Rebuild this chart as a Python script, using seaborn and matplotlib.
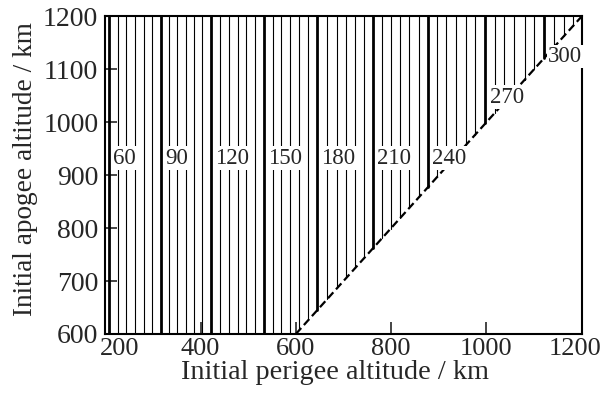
import numpy as np
import pandas as pd
import matplotlib
matplotlib.use("Agg")
import matplotlib.pyplot as plt
import matplotlib.transforms as mtransforms
import seaborn as sns

# ---- data ----
levels = [60, 65, 70, 75, 80, 85, 90, 95, 100, 105, 110, 115, 120, 125, 130,
          135, 140, 145, 150, 155, 160, 165, 170, 175, 180, 185, 190, 195, 200,
          205, 210, 215, 220, 225, 230, 235, 240, 245, 250, 255, 260, 265, 270,
          275, 280, 285, 290, 295, 300, 305, 310, 315]
perigee_km = [208, 226, 244, 262, 281, 299, 317, 334, 351, 369, 387, 402, 422,
              441, 460, 478, 496, 514, 533, 551, 569, 588, 607, 626, 645, 666,
              686, 705, 724, 743, 762, 781, 799, 819, 838, 858, 877, 896, 915,
              936, 957, 976, 998, 1018, 1037, 1058, 1080, 1100, 1121, 1141,
              1163, 1182]
labeled_levels = [60, 90, 120, 150, 180, 210, 240, 270, 300]
label_apogee = [932, 932, 932, 932, 932, 932, 932, 1047, 1124]
x_ticks = [200, 400, 600, 800, 1000, 1200]
y_ticks = [600, 700, 800, 900, 1000, 1100, 1200]
diag = [600, 1200]

# ---- build long-format table ----
rows = []
for lev, p in zip(levels, perigee_km):
    kind = "thick" if lev in labeled_levels else "thin"
    rows.append(dict(level=lev, perigee=p, apogee=max(600, p), kind=kind))
    rows.append(dict(level=lev, perigee=p, apogee=1200, kind=kind))
df = pd.DataFrame(rows)

sns.set_style("ticks")
plt.rcParams["font.family"] = ["Liberation Serif", "DejaVu Serif"]

fig = plt.figure(figsize=(6.03, 3.99), dpi=100)
ax = fig.add_axes([0.1746, 0.163, 0.7901, 0.796])

sns.lineplot(data=df[df.kind == "thin"], x="perigee", y="apogee", units="level",
             estimator=None, sort=False, color="black", linewidth=0.8, ax=ax,
             legend=False)
sns.lineplot(data=df[df.kind == "thick"], x="perigee", y="apogee", units="level",
             estimator=None, sort=False, color="black", linewidth=2.0, ax=ax,
             legend=False)
sns.lineplot(x=diag, y=diag, color="black", linewidth=1.6,
             linestyle=(0, (3.6, 1.8)), estimator=None, sort=False, ax=ax)

for lev, ya in zip(labeled_levels, label_apogee):
    xp = perigee_km[levels.index(lev)]
    ax.annotate(str(lev), xy=(xp, ya), xytext=(3.0, 0), textcoords="offset points",
                ha="left", va="center", fontsize=16.5,
                bbox=dict(facecolor="white", edgecolor="none", pad=1.0),
                zorder=5)

ax.set_xlim(200, 1200)
ax.set_ylim(600, 1200)
ax.set_xticks(x_ticks)
ax.set_yticks(y_ticks)
ax.tick_params(axis="both", direction="in", length=8.5, width=1.2,
               top=False, right=False)
ax.tick_params(axis="x", pad=3, labelsize=19)
ax.tick_params(axis="y", pad=5, labelsize=20)
for s in ax.spines.values():
    s.set_linewidth(1.5)
    s.set_color("black")
ax.set_xlabel("Initial perigee altitude / km", fontsize=20.3, labelpad=0)
ax.set_ylabel("Initial apogee altitude / km", fontsize=19.6, labelpad=4)
ax.xaxis.label.set_x(0.482)
ax.yaxis.label.set_y(0.52)

# nudge the end tick labels like the reference
xl = ax.get_xticklabels()
xl[0].set_transform(xl[0].get_transform() +
                    mtransforms.ScaledTranslation(14 / 100, 0, fig.dpi_scale_trans))
xl[-1].set_transform(xl[-1].get_transform() +
                     mtransforms.ScaledTranslation(-7 / 100, 0, fig.dpi_scale_trans))

fig.savefig("out.png", dpi=100)
